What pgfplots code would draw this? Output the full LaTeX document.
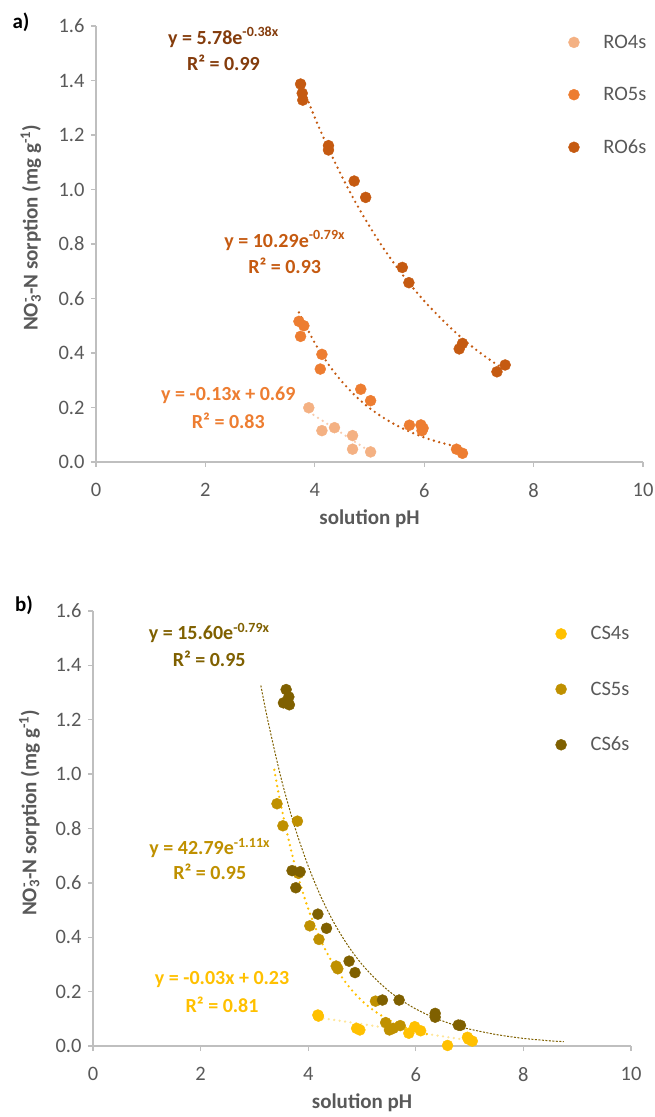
\documentclass[border=0pt]{standalone}
\usepackage{fontspec}
\setmainfont{Carlito}
\usepackage{pgfplots}
\pgfplotsset{compat=1.18}

\definecolor{axgray}{HTML}{BFBFBF}
\definecolor{txgray}{HTML}{595959}
\definecolor{roA}{HTML}{F4B183}
\definecolor{roB}{HTML}{ED7D31}
\definecolor{roC}{HTML}{C55A11}
\definecolor{roAt}{HTML}{F8CBAD}
\definecolor{roD}{HTML}{843C0C}
\definecolor{csA}{HTML}{FFC000}
\definecolor{csB}{HTML}{BF9000}
\definecolor{csC}{HTML}{7F6000}
\definecolor{csAt}{HTML}{FFE699}

\newcommand{\fsz}{\fontsize{20.5}{24}\selectfont}
\newcommand{\eqf}{\fontsize{20}{24}\selectfont\bfseries}
\newcommand{\lbl}{\fontsize{21}{25}\selectfont\bfseries}

\pgfplotsset{
  panel/.style={
    scale only axis,
    xmin=0, xmax=10, ymin=0, ymax=1.6,
    axis x line=bottom, axis y line=left,
    axis line style={-, axgray, line width=1.3pt},
    tick style={axgray, line width=1.3pt},
    tick align=outside, major tick length=5pt,
    xtick={0,2,4,6,8,10},
    ytick={0,0.2,0.4,0.6,0.8,1.0,1.2,1.4,1.6},
    /pgf/number format/assume math mode=true,
    ticklabel style={font=\fsz, text=txgray},
    xticklabel style={yshift=-13pt},
    yticklabel style={xshift=-3pt, /pgf/number format/.cd, fixed, fixed zerofill, precision=1},
    xlabel={solution pH},
    ylabel={NO\rlap{\textsuperscript{-}}\textsubscript{3}-N sorption (mg g\textsuperscript{-1})},
    label style={font=\lbl, text=txgray},
    xlabel style={at={(rel axis cs:0.5,0)}, anchor=center, yshift=-57pt},
    legend style={draw=none, fill=none, font=\fsz, text=txgray,
      anchor=north west,
      /tikz/every odd column/.style={column sep=13.5pt}},
    legend cell align=left,
    legend image code/.code={
      \path[draw=none, fill=none] (0pt,-5pt) rectangle (20pt,5pt);
      \draw[#1] plot coordinates {(6pt,0pt)};},
    clip=false,
  },
  dots/.style={only marks, mark=*, mark size=5.5pt, mark options={draw=none}},
  trend/.style={smooth, forget plot, line width=2.6pt, line cap=round,
    dash pattern=on 0pt off 5.5pt},
}

\begin{document}
\begin{tikzpicture}
\useasboundingbox (0,0) rectangle (655pt,1117pt);

% ---- a) RO samples
\begin{axis}[panel, at={(96pt,655pt)}, anchor=south west,
  width=547pt, height=436pt,
  ylabel style={at={(rel axis cs:-0.119,0.537)}, anchor=center},
  legend style={at={(rel axis cs:0.857,0.989)}, row sep=33.5pt}]
\addplot[dots, color=roA] coordinates {
  (3.89,0.199) (4.13,0.115) (4.36,0.126) (4.69,0.097) (4.69,0.047) (5.02,0.037)};
\addlegendentry{RO4s}
\addplot[dots, color=roB] coordinates {
  (3.71,0.516) (3.80,0.500) (3.74,0.461) (4.13,0.395) (4.10,0.341) (4.84,0.267)
  (5.02,0.225) (5.73,0.135) (5.94,0.136) (5.98,0.124) (5.96,0.115) (6.59,0.047) (6.70,0.032)};
\addlegendentry{RO5s}
\addplot[dots, color=roC] coordinates {
  (3.74,1.387) (3.77,1.353) (3.78,1.328) (4.25,1.161) (4.25,1.145) (4.72,1.031)
  (4.93,0.971) (5.60,0.714) (5.72,0.658) (6.70,0.435) (6.64,0.415) (7.33,0.331) (7.48,0.356)};
\addlegendentry{RO6s}

% trendlines (values taken from the fitted equations shown)
\addplot[trend, roAt] coordinates {(3.89,0.184) (5.02,0.037)};
\addplot[trend, roC] coordinates {
  (3.71,0.549) (4.0,0.437) (4.25,0.358) (4.5,0.294) (4.75,0.241) (5.0,0.198)
  (5.25,0.163) (5.5,0.134) (5.75,0.110) (6.0,0.090) (6.25,0.074) (6.5,0.061) (6.7,0.052)};
\addplot[trend, roC] coordinates {
  (3.74,1.395) (4.0,1.264) (4.25,1.150) (4.5,1.046) (4.75,0.951) (5.0,0.865)
  (5.25,0.786) (5.5,0.715) (5.75,0.650) (6.0,0.591) (6.25,0.538) (6.5,0.489)
  (6.75,0.444) (7.0,0.404) (7.25,0.368) (7.48,0.337)};

\node[font=\eqf, text=roD] at (axis cs:2.33,1.558) {y = 5.78e\textsuperscript{-0.38x}};
\node[font=\eqf, text=roD] at (axis cs:2.33,1.466) {R² = 0.99};
\node[font=\eqf, text=roC] at (axis cs:3.45,0.812) {y = 10.29e\textsuperscript{-0.79x}};
\node[font=\eqf, text=roC] at (axis cs:3.45,0.720) {R² = 0.93};
\node[font=\eqf, text=roB] at (axis cs:2.42,0.246) {y = -0.13x + 0.69};
\node[font=\eqf, text=roB] at (axis cs:2.42,0.153) {R² = 0.83};
\end{axis}

% ---- b) CS samples
\begin{axis}[panel, at={(93pt,71pt)}, anchor=south west,
  width=538pt, height=435pt,
  ylabel style={at={(rel axis cs:-0.118,0.536)}, anchor=center},
  legend style={at={(rel axis cs:0.853,0.974)}, row sep=36.5pt}]
\addplot[dots, color=csA] coordinates {
  (4.18,0.114) (4.19,0.110) (4.90,0.065) (4.96,0.059) (5.87,0.047) (5.98,0.071)
  (6.09,0.056) (6.59,0.002) (6.96,0.032) (7.05,0.018) (6.98,0.025)};
\addlegendentry{CS4s}
\addplot[dots, color=csB] coordinates {
  (3.42,0.891) (3.53,0.810) (3.80,0.827) (3.82,0.635) (4.03,0.442) (4.20,0.392)
  (4.52,0.294) (4.55,0.284) (5.25,0.165) (5.44,0.086) (5.51,0.059) (5.71,0.075) (5.58,0.065)};
\addlegendentry{CS5s}
\addplot[dots, color=csC] coordinates {
  (3.59,1.311) (3.64,1.284) (3.54,1.262) (3.65,1.255) (3.70,0.645) (3.85,0.641)
  (3.77,0.582) (4.18,0.485) (4.34,0.433) (4.76,0.312) (4.87,0.270) (5.38,0.169)
  (5.69,0.169) (6.36,0.120) (6.36,0.106) (6.79,0.077) (6.83,0.076)};
\addlegendentry{CS6s}

\addplot[trend, csAt] coordinates {(4.18,0.105) (7.05,0.019)};
\addplot[trend, csA] coordinates {
  (3.37,1.016) (3.5,0.879) (3.75,0.666) (4.0,0.505) (4.25,0.382) (4.5,0.290)
  (4.75,0.220) (5.0,0.166) (5.25,0.126) (5.5,0.096) (5.75,0.072) (6.0,0.055) (6.26,0.041)};
\addplot[smooth, forget plot, csC, line width=1pt, dash pattern=on 2pt off 1.5pt] coordinates {
  (3.12,1.326) (3.25,1.197) (3.5,0.982) (3.75,0.806) (4.0,0.662) (4.25,0.543)
  (4.5,0.446) (4.75,0.366) (5.0,0.300) (5.25,0.247) (5.5,0.202) (5.75,0.166)
  (6.0,0.136) (6.25,0.112) (6.5,0.092) (6.75,0.075) (7.0,0.062) (7.5,0.042)
  (8.0,0.028) (8.5,0.019) (8.75,0.016)};

\node[font=\eqf, text=csC] at (axis cs:2.16,1.519) {y = 15.60e\textsuperscript{-0.79x}};
\node[font=\eqf, text=csC] at (axis cs:2.16,1.425) {R² = 0.95};
\node[font=\eqf, text=csB] at (axis cs:2.17,0.728) {y = 42.79e\textsuperscript{-1.11x}};
\node[font=\eqf, text=csB] at (axis cs:2.17,0.640) {R² = 0.95};
\node[font=\eqf, text=csA] at (axis cs:2.40,0.246) {y = -0.03x + 0.23};
\node[font=\eqf, text=csA] at (axis cs:2.40,0.151) {R² = 0.81};
\end{axis}

\node[font=\lbl, text=black] at (21pt,1095pt) {a)};
\node[font=\lbl, text=black] at (24pt,512pt) {b)};
\end{tikzpicture}
\end{document}
